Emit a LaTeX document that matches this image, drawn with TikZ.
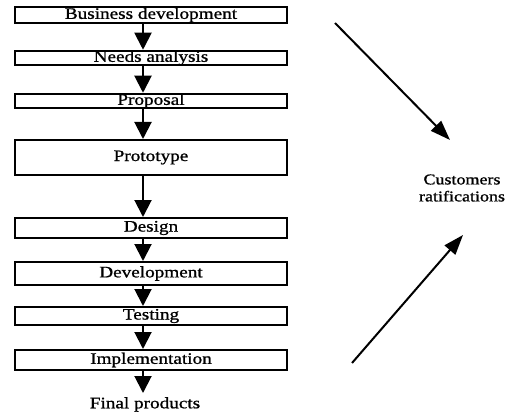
\documentclass[tikz,border=0pt]{standalone}
\usepackage{fontspec}
\setmainfont[FakeStretch=1.2, FakeBold=1]{Liberation Serif}
\usetikzlibrary{arrows.meta}

\tikzset{
  stage/.style={draw, line width=2pt, minimum width=272pt, inner sep=0pt, font=\fontsize{16}{17}\selectfont},
  flow/.style={line width=2pt, -{Triangle[width=17pt,length=17pt]}},
  ratify/.style={line width=2pt, -{Triangle[width=14pt,length=20pt]}}
}

\begin{document}
\begin{tikzpicture}[x=1pt,y=-1pt]
	\begin{scope}
	  \useasboundingbox (0,0) rectangle (513,414);

	  \node[stage, minimum height=16pt] (bus) at (151,15) {Business development};
	  \node[stage, minimum height=14pt] (needs) at (151,58) {Needs analysis};
	  \node[stage, minimum height=14pt] (prop) at (151,101) {Proposal};
	  \node[stage, minimum height=35pt] (proto) at (151,157.5) {Prototype};
	  \node[stage, minimum height=20pt] (design) at (151,228) {Design};
	  \node[stage, minimum height=23pt] (dev) at (151,273.5) {Development};
	  \node[stage, minimum height=18pt] (test) at (151,316) {Testing};
	  \node[stage, minimum height=20pt] (impl) at (151,360) {Implementation};
	  \node[font=\fontsize{16}{17}\selectfont, inner sep=0pt, anchor=north] (final) at (145,397) {Final products};

	  \draw[flow] ([xshift=-8pt]bus.south) -- ([xshift=-8pt]needs.north);
	  \draw[flow] ([xshift=-8pt]needs.south) -- ([xshift=-8pt]prop.north);
	  \draw[flow] ([xshift=-8pt]prop.south) -- ([xshift=-8pt]proto.north);
	  \draw[flow] ([xshift=-8pt]proto.south) -- ([xshift=-8pt]design.north);
	  \draw[flow] ([xshift=-8pt]design.south) -- ([xshift=-8pt]dev.north);
	  \draw[flow] ([xshift=-8pt]dev.south) -- ([xshift=-8pt]test.north);
	  \draw[flow] ([xshift=-8pt]test.south) -- ([xshift=-8pt]impl.north);
	  \coordinate (finaltip) at (143,393);
	  \draw[flow] ([xshift=-8pt]impl.south) -- (finaltip);

	  \node[align=center, inner sep=0pt, font=\fontsize{15}{17}\selectfont] (cust) at (462,188) {Customers\\ratifications};
	  \coordinate (topstart) at (335,23);
	  \coordinate (topend) at (450,140);
	  \coordinate (botstart) at (352,363);
	  \coordinate (botend) at (463,235);
	  \draw[ratify] (topstart) -- (topend);
	  \draw[ratify] (botstart) -- (botend);
	\end{scope}
\end{tikzpicture}
\end{document}
